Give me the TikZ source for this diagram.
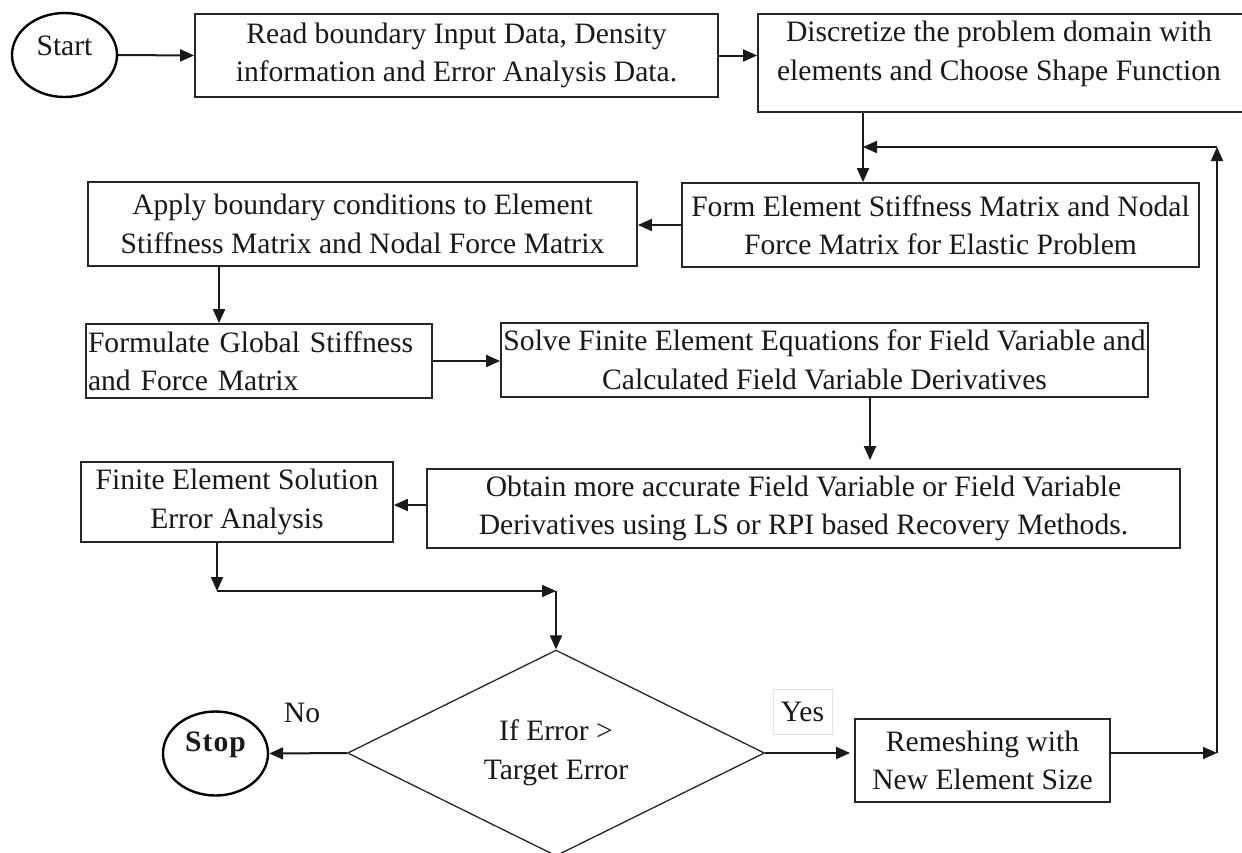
\documentclass[tikz,border=0pt]{standalone}
\usepackage{fontspec}
\setmainfont{Liberation Serif}
\usetikzlibrary{arrows.meta,shapes.geometric}
\begin{document}
\begin{tikzpicture}[x=1pt,y=-1pt,
  every node/.style={font=\fontsize{29.6}{38.5}\selectfont, text=black!90},
  box/.style={draw=black!85, line width=1.8pt, rectangle, inner sep=0pt, align=center},
  oval/.style={draw=black, line width=2.4pt, ellipse, minimum width=105pt, minimum height=84pt, inner sep=0pt},
  dec/.style={draw=black!85, line width=1.3pt, diamond, aspect=2, inner sep=0pt, minimum width=417pt, minimum height=206pt, align=center},
  arr/.style={line width=2pt, draw=black!90, -{Triangle[length=14pt,width=12pt]}},
  lbl/.style={inner sep=0pt}
]
\useasboundingbox (0,0) rectangle (1242,852);
\fill[white] (0,0) rectangle (1242,852);

% start / stop
\node[oval] (start) at (64.5,55) {};
\node[lbl] (starttxt) at (64.5,46) {Start};
\node[oval] (stop) at (215.5,753.5) {};
\node[lbl] (stoptxt) at (215.5,745) {\bfseries S\kern1pt t\kern1pt o\kern1pt p};

% boxes
\node[box, minimum width=523pt, minimum height=83pt] (b1) at (456.5,55.5)
  {Read boundary Input Data, Density\\information and Error Analysis Data.};
\node[box, minimum width=492pt, minimum height=98pt] (b2) at (1004,63) {};
\node[lbl, align=center] (b2txt) at (999,54)
  {Discretize the problem domain with\\elements and Choose Shape Function};
\node[box, minimum width=517pt, minimum height=84pt] (b3) at (940.5,225)
  {Form Element Stiffness Matrix and Nodal\\Force Matrix for Elastic Problem};
\node[box, minimum width=549pt, minimum height=84pt] (b4) at (362.5,224)
  {Apply boundary conditions to Element\\Stiffness Matrix and Nodal Force Matrix};
\node[box, align=left, inner xsep=2pt, text width=342pt, minimum height=74pt] (b5) at (259,361)
  {Formulate Global Stiffness\\and Force Matrix};
\node[box, minimum width=647pt, minimum height=74pt] (b6) at (824.5,360)
  {Solve Finite Element Equations for Field Variable and\\Calculated Field Variable Derivatives};
\node[box, minimum width=753pt, minimum height=79pt] (b7) at (803.5,508.5)
  {Obtain more accurate Field Variable or Field Variable\\Derivatives using LS or RPI based Recovery Methods.};
\node[box, minimum width=312pt, minimum height=80pt] (b8) at (237,502)
  {Finite Element Solution\\Error Analysis};
\node[dec] (dec) at (556,753) {If Error >\\Target Error};
\node[box, minimum width=255pt, minimum height=83pt] (b9) at (982.5,760.5)
  {Remeshing with\\New Element Size};

% labels
\node[lbl] (no) at (302,713) {No};
\node[draw=black!12, line width=0.8pt, minimum width=59pt, minimum height=45pt, inner sep=0pt] (yes) at (802.5,711.5) {Yes};

% junction coordinates
\coordinate (j1) at (863,147);
\coordinate (r1) at (1217,147);
\coordinate (r2) at (1217,753);
\coordinate (m1) at (217,591);
\coordinate (m2) at (556,591);

% connectors
\draw[arr] (start.east) -- (b1.west);
\draw[arr] (b1.east) -- (b1.east -| b2.west);
\draw[arr] (b2.south -| j1) -- (b3.north -| j1);
\draw[arr] (b9.east |- r2) -- (r2);
\draw[arr] (r2) -- (r1);
\draw[arr] (r1) -- (j1);
\draw[arr] (b3.west) -- (b3.west -| b4.east);
\draw[arr] (b4.south -| 219,0) -- (b5.north -| 219,0);
\draw[arr] (b5.east |- 0,361) -- (b6.west |- 0,361);
\draw[arr, shorten >=8pt] (b6.south -| 870,0) -- (b7.north -| 870,0);
\draw[arr] (b7.west |- 0,505) -- (b8.east |- 0,505);
\draw[arr] (b8.south -| m1) -- (m1);
\draw[arr] (m1) -- (m2);
\draw[arr] (m2) -- (dec.north);
\draw[arr] (dec.west) -- (stop.east);
\draw[arr, shorten >=4pt] (dec.east) -- (dec.east -| b9.west);
\end{tikzpicture}
\end{document}
